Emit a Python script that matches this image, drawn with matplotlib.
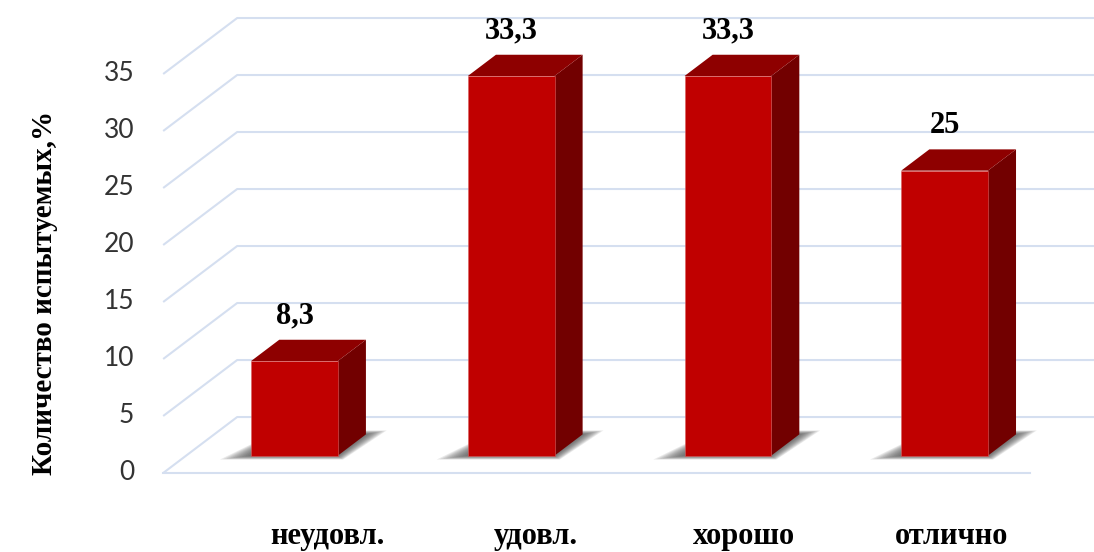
import matplotlib.pyplot as plt
from matplotlib.patches import Polygon

# ─────────────────────────────────────────────
# DATA
# ─────────────────────────────────────────────
categories   = ["неудовл.", "удовл.", "хорошо", "отлично"]
values       = [8.3, 33.3, 33.3, 25]
value_labels = ["8,3", "33,3", "33,3", "25"]
y_ticks      = [0, 5, 10, 15, 20, 25, 30, 35]
y_title      = "Количество испытуемых,%"

# ─────────────────────────────────────────────
# 3D look: depth is projected up and to the right
# ─────────────────────────────────────────────
DEPTH_X = 0.3415    # category units per unit of depth
DEPTH_Y = 4.91      # value units per unit of depth
BAR_W   = 0.40
D0, D1  = 0.31, 0.69   # bar front / back depth on the floor

FRONT = "#C00000"
TOP   = "#8E0000"
SIDE  = "#720000"
GRID  = "#D5DFF0"
SERIF = "Liberation Serif"


def proj(x, v, d):
    return (x + d * DEPTH_X, v + d * DEPTH_Y)


fig = plt.figure(figsize=(10.94, 5.52), dpi=100)
ax = fig.add_axes([0, 0, 1, 1])
ax.set_xlim(-1.253, 3.7955)
ax.set_ylim(-6.93, 41.49)
ax.axis("off")

x_lo, x_hi = -0.5, len(categories) - 0.5

# wall + floor gridlines
for v in y_ticks:
    pts = [proj(x_lo, v, 0), proj(x_lo, v, 1), proj(x_hi + 0.5, v, 1)]
    ax.plot(*zip(*pts), color=GRID, lw=1.5, zorder=1, solid_capstyle="butt")
front_edge = [proj(x_lo, 0, 0), proj(x_hi, 0, 0)]
ax.plot(*zip(*front_edge), color=GRID, lw=1.5, zorder=1)

# tick labels on the front-left edge
for v in y_ticks:
    ax.annotate(str(v), xy=proj(x_lo, v, 0), xytext=(-21, 0),
                textcoords="offset points", ha="right", va="center",
                fontsize=19, family="Lato", color="#333333")

for i, v in enumerate(values):
    l, r = i - BAR_W / 2, i + BAR_W / 2

    # soft floor shadow
    n = 10
    for k in range(n):
        e = 0.12 * (1 - k / n)
        ed = 0.07 * (1 - k / n)
        shadow = [proj(l - e, 0, D0 - ed), proj(r + e * 0.4, 0, D0 - ed),
                  proj(r + e * 0.6, 0, D1 + ed), proj(l - e * 0.2, 0, D1 + ed)]
        ax.add_patch(Polygon(shadow, closed=True, facecolor="#404040",
                             edgecolor="none", alpha=0.11, zorder=2))

    front = [proj(l, 0, D0), proj(r, 0, D0), proj(r, v, D0), proj(l, v, D0)]
    top   = [proj(l, v, D0), proj(r, v, D0), proj(r, v, D1), proj(l, v, D1)]
    side  = [proj(r, 0, D0), proj(r, 0, D1), proj(r, v, D1), proj(r, v, D0)]
    ax.add_patch(Polygon(side, closed=True, facecolor=SIDE, edgecolor="none", zorder=3))
    ax.add_patch(Polygon(top, closed=True, facecolor=TOP, edgecolor="none", zorder=3))
    ax.add_patch(Polygon(front, closed=True, facecolor=FRONT,
                         edgecolor="#d86060", lw=0.4, zorder=4))

    # value label above the bar
    lx, ly = proj(i, v, D1)
    ax.text(lx - DEPTH_X * (D1 - D0), ly + 2.1, value_labels[i], ha="center", va="center",
            fontsize=22, fontweight="bold", family=SERIF, zorder=5)

    # category label under the floor
    ax.text(0.26 + 0.96 * i, -5.6, categories[i], ha="center", va="center",
            fontsize=22, fontweight="bold", family=SERIF)

fig.text(45 / 1094, 1 - 293 / 552, y_title, rotation=90, ha="center", va="center",
         fontsize=21, fontweight="bold", family=SERIF)

fig.savefig("out.png", dpi=100)
